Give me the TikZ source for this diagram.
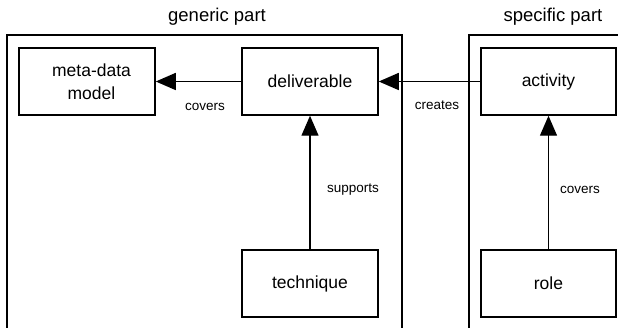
\documentclass[tikz,border=0pt]{standalone}
\usepackage{fontspec}
\setmainfont{Liberation Sans}
\usetikzlibrary{arrows.meta}
\begin{document}
\begin{tikzpicture}[x=1pt,y=-1pt,
  box/.style={draw,line width=1.5pt,minimum width=136pt,minimum height=67pt,inner sep=0pt,align=center,font=\fontsize{17.5}{23}\selectfont},
  cont/.style={draw,line width=1.4pt},
  lbl/.style={font=\fontsize{13.5}{16}\selectfont,inner sep=0pt},
  ttl/.style={font=\fontsize{18.5}{22}\selectfont,inner sep=0pt},
  conn/.style={line width=1.4pt,-{Triangle[length=20pt,width=17pt]}}]
\useasboundingbox (0,0) rectangle (618,328);
\draw[cont] (7,330) -- (7,35) -- (402,35) -- (402,330);
\draw[cont] (469,330) -- (469,35) -- (622,35);
\node[ttl] (tg) at (217,17) {generic part};
\node[ttl] (ts) at (553,17) {specific part};
\node[box] (meta) at (87,81.5) {\hspace*{9pt}meta-data\\\hspace*{9pt}model};
\node[box] (deliv) at (310,81.5) {deliverable};
\node[box,minimum width=135pt] (act) at (548.5,81.5) {activity};
\node[box] (tech) at (310,283.5) {technique};
\node[box,minimum width=135pt] (role) at (548.5,283.5) {role};
\draw[conn] (deliv.west) -- (meta.east);
\draw[conn] (act.west) -- (deliv.east);
\draw[conn] (tech.north) -- (deliv.south);
\draw[conn] (role.north) -- (act.south);
\node[lbl] (l1) at (205,107) {covers};
\node[lbl] (l2) at (437,105) {creates};
\node[lbl] (l3) at (353,190) {supports};
\node[lbl] (l4) at (580,190) {covers};
\end{tikzpicture}
\end{document}
